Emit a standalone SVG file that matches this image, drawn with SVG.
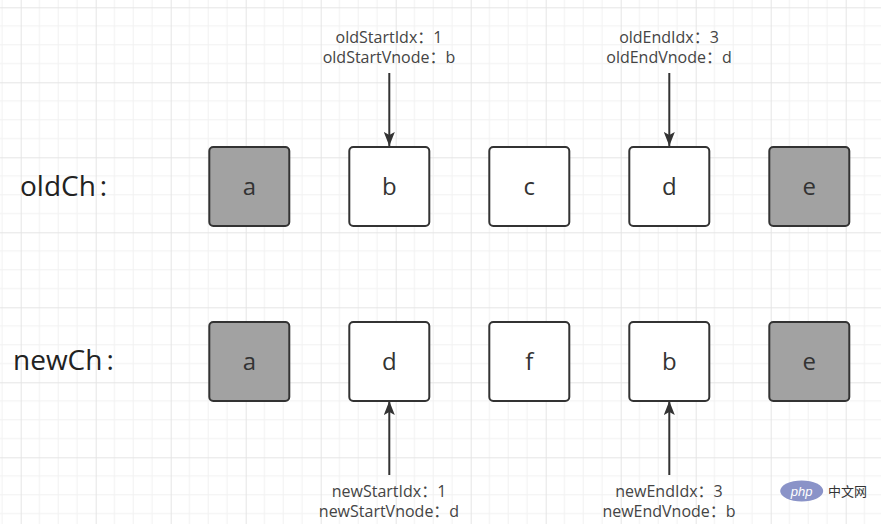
<svg xmlns="http://www.w3.org/2000/svg" width="881" height="524" viewBox="0 0 881 524">
<style>
.box{stroke:#333;stroke-width:2}
.gray{fill:#a2a2a2}
.white{fill:#fff}
.letter{font-family:"Open Sans","Noto Sans",sans-serif;font-size:24px;fill:#333;text-anchor:middle}
.row{font-family:"Open Sans","Noto Sans",sans-serif;font-size:28px;fill:#222}
.lbl{font-family:"Open Sans","Noto Sans CJK SC",sans-serif;font-size:16px;fill:#444;text-anchor:middle}
.arrow{stroke:#333;stroke-width:2;fill:none;marker-end:url(#ah)}
</style>
<defs>
<pattern id="grid" width="75" height="75" patternUnits="userSpaceOnUse" x="20.7" y="7.3">
<path d="M18.75,0V75M37.5,0V75M56.25,0V75M0,18.75H75M0,37.5H75M0,56.25H75" stroke="#f1f1f1" stroke-width="1" fill="none"/>
<path d="M0.5,0V75M0,0.5H75" stroke="#e5e5e5" stroke-width="1" fill="none"/>
</pattern>
<marker id="ah" markerWidth="14" markerHeight="11" refX="14" refY="5.5" orient="auto" markerUnits="userSpaceOnUse">
<path d="M0,0 L14,5.5 L0,11 L3,5.5 z" fill="#333"/>
</marker>
</defs>
<rect width="881" height="524" fill="#fff"/>
<rect width="881" height="524" fill="url(#grid)"/>

<g id="label-oldCh"><text class="row" x="20" y="196">oldCh<tspan dx="4">:</tspan></text></g>
<g id="label-newCh"><text class="row" x="13" y="370">newCh<tspan dx="4">:</tspan></text></g>

<g id="old-a"><rect class="box gray" x="209.3" y="147" width="80" height="79" rx="4"/><text class="letter" x="249.3" y="195">a</text></g>
<g id="old-b"><rect class="box white" x="349.3" y="147" width="80" height="79" rx="4"/><text class="letter" x="389.3" y="195">b</text></g>
<g id="old-c"><rect class="box white" x="489.3" y="147" width="80" height="79" rx="4"/><text class="letter" x="529.3" y="195">c</text></g>
<g id="old-d"><rect class="box white" x="629.3" y="147" width="80" height="79" rx="4"/><text class="letter" x="669.3" y="195">d</text></g>
<g id="old-e"><rect class="box gray" x="769.3" y="147" width="80" height="79" rx="4"/><text class="letter" x="809.3" y="195">e</text></g>

<g id="new-a"><rect class="box gray" x="209.3" y="322" width="80" height="79" rx="4"/><text class="letter" x="249.3" y="370">a</text></g>
<g id="new-d"><rect class="box white" x="349.3" y="322" width="80" height="79" rx="4"/><text class="letter" x="389.3" y="370">d</text></g>
<g id="new-f"><rect class="box white" x="489.3" y="322" width="80" height="79" rx="4"/><text class="letter" x="529.3" y="370">f</text></g>
<g id="new-b"><rect class="box white" x="629.3" y="322" width="80" height="79" rx="4"/><text class="letter" x="669.3" y="370">b</text></g>
<g id="new-e"><rect class="box gray" x="769.3" y="322" width="80" height="79" rx="4"/><text class="letter" x="809.3" y="370">e</text></g>

<g id="label-oldStart"><text class="lbl" x="389" y="43">oldStartIdx：1</text><text class="lbl" x="389" y="63">oldStartVnode：b</text></g>
<g id="label-oldEnd"><text class="lbl" x="669" y="43">oldEndIdx：3</text><text class="lbl" x="669" y="63">oldEndVnode：d</text></g>
<g id="label-newStart"><text class="lbl" x="389" y="497">newStartIdx：1</text><text class="lbl" x="389" y="517">newStartVnode：d</text></g>
<g id="label-newEnd"><text class="lbl" x="669" y="497">newEndIdx：3</text><text class="lbl" x="669" y="517">newEndVnode：b</text></g>

<g id="connectors">
<line class="arrow" x1="389.3" y1="73" x2="389.3" y2="146"/>
<line class="arrow" x1="669.3" y1="73" x2="669.3" y2="146"/>
<line class="arrow" x1="389.3" y1="475" x2="389.3" y2="401"/>
<line class="arrow" x1="669.3" y1="475" x2="669.3" y2="401"/>
</g>

<g id="watermark">
<ellipse cx="801.7" cy="491" rx="21.5" ry="10.5" fill="#8a93c8"/>
<text x="801.7" y="495.5" font-family="Liberation Sans,sans-serif" font-size="13" font-style="italic" fill="#fff" text-anchor="middle">php</text>
<text x="828" y="496" font-family="Noto Sans CJK SC,sans-serif" font-size="13" fill="#333">中文网</text>
</g>
</svg>
